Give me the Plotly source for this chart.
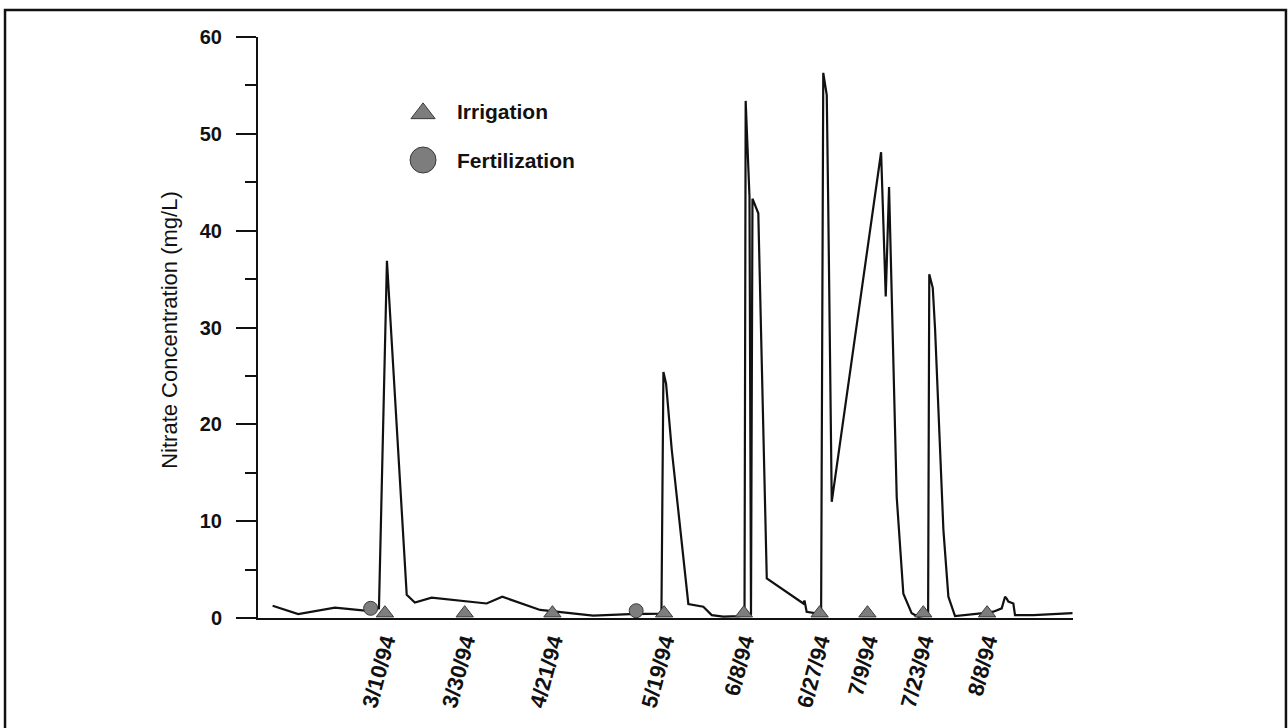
import plotly.graph_objects as go

# ---------------- data ----------------
conc_dates = [
    "1994-02-09 20:00", "1994-02-16 06:00", "1994-02-25 11:00", "1994-03-05 00:00",
    "1994-03-08 12:00", "1994-03-10 12:00", "1994-03-15 11:00", "1994-03-17 12:00",
    "1994-03-21 17:00", "1994-04-04 12:00", "1994-04-08 10:00", "1994-04-17 22:00",
    "1994-05-01 05:00", "1994-05-10 11:00", "1994-05-18 08:00", "1994-05-18 20:00",
    "1994-05-19 12:00", "1994-05-20 22:00", "1994-05-25 02:00", "1994-05-28 20:00",
    "1994-05-30 23:00", "1994-06-02 20:00", "1994-06-07 01:00", "1994-06-08 04:00",
    "1994-06-08 11:00", "1994-06-09 10:00", "1994-06-09 19:00", "1994-06-10 04:00",
    "1994-06-11 15:00", "1994-06-13 18:00", "1994-06-22 22:00", "1994-06-23 05:00",
    "1994-06-23 18:00", "1994-06-26 07:00", "1994-06-27 09:00", "1994-06-27 22:00",
    "1994-06-28 19:00", "1994-06-29 04:00", "1994-06-30 01:00", "1994-07-12 10:00",
    "1994-07-13 14:00", "1994-07-14 10:00", "1994-07-15 12:00", "1994-07-16 08:00",
    "1994-07-18 00:00", "1994-07-20 02:00", "1994-07-21 18:00", "1994-07-24 05:00",
    "1994-07-24 12:00", "1994-07-25 09:00", "1994-07-25 23:00", "1994-07-28 01:00",
    "1994-07-29 07:00", "1994-07-30 23:00", "1994-08-07 01:00", "1994-08-09 14:00",
    "1994-08-11 16:00", "1994-08-12 12:00", "1994-08-12 22:00", "1994-08-13 08:00",
    "1994-08-14 14:00", "1994-08-15 00:00", "1994-08-19 14:00", "1994-08-29 10:00",
]
conc_values = [
    1.27, 0.41, 1.07, 0.76,
    1.0, 36.9, 2.4, 1.6,
    2.1, 1.5, 2.2, 0.83,
    0.24, 0.41, 0.45, 25.4,
    24.2, 17.4, 1.45, 1.17,
    0.3, 0.14, 0.2, 0.3,
    53.4, 43.5, 0.3, 43.3,
    41.8, 4.1, 1.5, 1.8,
    0.65, 0.5, 0.4, 56.3,
    54.0, 42.5, 12.0, 48.1,
    33.2, 44.5, 26.6, 12.5,
    2.5, 0.5, 0.13, 0.3,
    35.5, 34.1, 29.8, 9.1,
    2.2, 0.2, 0.5, 0.65,
    1.0, 2.2, 2.0, 1.7,
    1.5, 0.3, 0.3, 0.5,
]

irrigation_dates = ["1994-03-10", "1994-03-30", "1994-04-21", "1994-05-19", "1994-06-08",
                    "1994-06-27", "1994-07-09", "1994-07-23", "1994-08-08"]
irrigation_values = [0.5] * len(irrigation_dates)

fertilization_dates = ["1994-03-06 10:00", "1994-05-12"]
fertilization_values = [1.0, 0.75]

tick_dates = ["1994-03-10", "1994-03-30", "1994-04-21", "1994-05-19", "1994-06-08",
              "1994-06-27", "1994-07-09", "1994-07-23", "1994-08-08"]
tick_labels = ["3/10/94", "3/30/94", "4/21/94", "5/19/94", "6/8/94",
               "6/27/94", "7/9/94", "7/23/94", "8/8/94"]

legend_names = ["Irrigation", "Fertilization"]

# ---------------- figure ----------------
FONT = "Liberation Sans, Arial, Helvetica, sans-serif"
GRAY = "#7d7d7d"
EDGE = "#3a3a3a"

fig = go.Figure()

fig.add_trace(go.Scatter(
    x=conc_dates, y=conc_values, mode="lines",
    line=dict(color="#111111", width=2.2), showlegend=False, hoverinfo="skip"))

fig.add_trace(go.Scatter(
    x=irrigation_dates, y=irrigation_values, mode="markers",
    marker=dict(symbol="triangle-up", size=15, color=GRAY, line=dict(color=EDGE, width=1)),
    showlegend=False, cliponaxis=False))

fig.add_trace(go.Scatter(
    x=fertilization_dates, y=fertilization_values, mode="markers",
    marker=dict(symbol="circle", size=14, color=GRAY, line=dict(color=EDGE, width=1)),
    showlegend=False, cliponaxis=False))

# manual legend (overlay axis in 0-1 units of the plot area)
fig.add_trace(go.Scatter(
    x=[0.2025], y=[0.8685], xaxis="x2", yaxis="y2", mode="markers",
    marker=dict(symbol="triangle-up", size=21, color=GRAY, line=dict(color=EDGE, width=1)),
    showlegend=False, hoverinfo="skip", cliponaxis=False))
fig.add_trace(go.Scatter(
    x=[0.2025], y=[0.7883], xaxis="x2", yaxis="y2", mode="markers",
    marker=dict(symbol="circle", size=26, color=GRAY, line=dict(color=EDGE, width=1)),
    showlegend=False, hoverinfo="skip", cliponaxis=False))

for name, yv in zip(legend_names, [0.8685 + 0.004, 0.7883]):
    fig.add_annotation(x=0.242, y=yv, xref="x2", yref="y2", text=name, showarrow=False,
                       xanchor="left", yanchor="middle",
                       font=dict(family=FONT, size=21, color="#111111", weight="bold"))

# y-axis title
fig.add_annotation(x=-0.108, y=0.496, xref="paper", yref="paper",
                   text="Nitrate Concentration (mg/L)", textangle=-90, showarrow=False,
                   xanchor="center", yanchor="middle",
                   font=dict(family=FONT, size=22, color="#111111"))

# outer frame
fig.add_shape(type="rect", xref="paper", yref="paper",
              x0=-0.3104, x1=1.2613, y0=-0.2, y1=1.0465,
              line=dict(color="#111111", width=2.5), fillcolor="rgba(0,0,0,0)", layer="below")

fig.update_layout(
    width=1288, height=728,
    margin=dict(l=258, r=215, t=37, b=110, autoexpand=False),
    paper_bgcolor="white", plot_bgcolor="white",
    font=dict(family=FONT, color="#111111"),
    showlegend=False,
    xaxis=dict(
        type="date", range=["1994-02-06 04:00", "1994-08-29 13:00"],
        tickmode="array", tickvals=tick_dates, ticktext=tick_labels,
        tickangle=-75, ticks="", showgrid=False, zeroline=False,
        showline=True, linecolor="#111111", linewidth=2,
        tickfont=dict(family=FONT, size=22, color="#111111", weight="bold"),
        automargin=False,
    ),
    yaxis=dict(
        range=[0, 60], tick0=0, dtick=10, ticks="outside", ticklen=20, tickwidth=2,
        tickcolor="#111111", showgrid=False, zeroline=False,
        showline=True, linecolor="#111111", linewidth=2,
        minor=dict(dtick=5, ticks="outside", ticklen=11, tickwidth=2, tickcolor="#111111"),
        tickfont=dict(family=FONT, size=20, color="#111111", weight="bold"),
        ticklabelstandoff=10, automargin=False,
    ),
    xaxis2=dict(range=[0, 1], overlaying="x", visible=False, anchor="y2"),
    yaxis2=dict(range=[0, 1], overlaying="y", visible=False, anchor="x2"),
)

fig.write_html("out.html",
               config={"displayModeBar": False},
               post_script="document.body.style.margin='0px';document.body.style.overflow='hidden';")
